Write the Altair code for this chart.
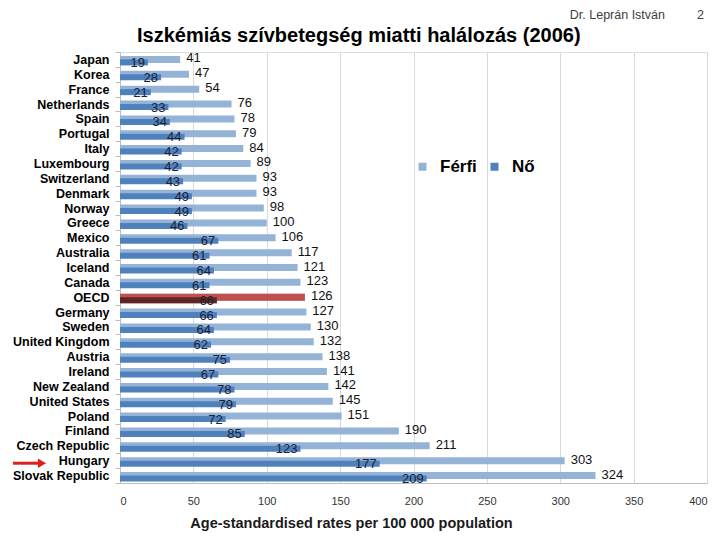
import altair as alt
import pandas as pd

countries = ["Japan", "Korea", "France", "Netherlands", "Spain", "Portugal", "Italy",
             "Luxembourg", "Switzerland", "Denmark", "Norway", "Greece", "Mexico",
             "Australia", "Iceland", "Canada", "OECD", "Germany", "Sweden",
             "United Kingdom", "Austria", "Ireland", "New Zealand", "United States",
             "Poland", "Finland", "Czech Republic", "Hungary", "Slovak Republic"]
ferfi = [41, 47, 54, 76, 78, 79, 84, 89, 93, 93, 98, 100, 106, 117, 121, 123, 126,
         127, 130, 132, 138, 141, 142, 145, 151, 190, 211, 303, 324]
no = [19, 28, 21, 33, 34, 44, 42, 42, 43, 49, 49, 46, 67, 61, 64, 61, 66, 66, 64,
      62, 75, 67, 78, 79, 72, 85, 123, 177, 209]
series = ["Férfi", "Nő"]
series_colors = ["#95b3d7", "#4f81bd"]
oecd_colors = ["#c0504d", "#632523"]
x_ticks = [0, 50, 100, 150, 200, 250, 300, 350, 400]

rows = []
for c, f, n in zip(countries, ferfi, no):
    rows.append({"country": c, "series": series[0], "value": f})
    rows.append({"country": c, "series": series[1], "value": n})
df = pd.DataFrame(rows)

FONT = "Liberation Sans"

base = alt.Chart(df)

y_enc = alt.Y("country:N", sort=countries,
              scale=alt.Scale(paddingInner=0, paddingOuter=0),
              axis=alt.Axis(title=None, labelFontSize=12.5, labelFontWeight="bold",
                            labelColor="#000000", labelFont=FONT, ticks=True,
                            tickBand="extent", tickSize=5, tickColor="#bfbfbf",
                            domainColor="#bfbfbf", labelPadding=6, grid=False))
x_enc = alt.X("value:Q", scale=alt.Scale(domain=[0, 400], nice=False),
              axis=alt.Axis(values=x_ticks, grid=True, gridColor="#d9d9d9",
                            tickSize=0, labelPadding=12, labelFontSize=11,
                            labelColor="#333333", labelFont=FONT,
                            domainColor="#bfbfbf",
                            title="Age-standardised rates per 100 000 population",
                            titleFontSize=14.5, titleFontWeight="bold", titleFont=FONT,
                            titleColor="#1a1a1a", titleX=231, titleY=44,
                            titleAlign="center", titleBaseline="alphabetic"))
color_enc = alt.Color("series:N",
                      scale=alt.Scale(domain=series, range=series_colors),
                      legend=alt.Legend(orient="none", legendX=294, legendY=106,
                                        direction="horizontal", title=None,
                                        symbolType="square", symbolSize=64,
                                        symbolStrokeWidth=0,
                                        labelFontSize=17, labelFontWeight="bold",
                                        labelFont=FONT, labelColor="#000000",
                                        labelOffset=9, columnPadding=9))

f_bars = base.transform_filter(alt.datum.series == series[0]).mark_bar(
    height=7, yOffset=0).encode(x=x_enc, y=y_enc, color=color_enc)
n_bars = base.transform_filter(alt.datum.series == series[1]).mark_bar(
    height=6, yOffset=3).encode(x=x_enc, y=y_enc, color=color_enc)

oecd_f = base.transform_filter(
    (alt.datum.series == series[0]) & (alt.datum.country == "OECD")).mark_bar(
    height=7, yOffset=0, color=oecd_colors[0]).encode(x=x_enc, y=y_enc)
oecd_n = base.transform_filter(
    (alt.datum.series == series[1]) & (alt.datum.country == "OECD")).mark_bar(
    height=6, yOffset=3, color=oecd_colors[1]).encode(x=x_enc, y=y_enc)

f_text = base.transform_filter(alt.datum.series == series[0]).mark_text(
    align="left", baseline="middle", dx=6, yOffset=-1, fontSize=13, font=FONT,
    color="#111111").encode(x=x_enc, y=y_enc, text="value:Q")
n_text = base.transform_filter(alt.datum.series == series[1]).mark_text(
    align="right", baseline="middle", dx=-3, yOffset=3.5, fontSize=13, font=FONT,
    color="#1b2233").encode(x=x_enc, y=y_enc, text="value:Q")

arrow_shaft = base.transform_filter(
    (alt.datum.series == series[0]) & (alt.datum.country == "Hungary")).mark_rule(
    color="#e02020", strokeWidth=3, yOffset=2.5).encode(
    x=alt.value(-107), x2=alt.value(-82), y=y_enc)
arrow_head = base.transform_filter(
    (alt.datum.series == series[0]) & (alt.datum.country == "Hungary")).mark_point(
    shape="triangle-right", filled=True, size=90, color="#e02020", opacity=1,
    yOffset=2.5).encode(x=alt.value(-78), y=y_enc)

one = alt.Data(values=[{"k": 1}])
title_txt = alt.Chart(one).mark_text(
    align="left", baseline="alphabetic", fontSize=20, fontWeight="bold",
    font=FONT, color="#000000").encode(
    x=alt.value(17), y=alt.value(-10),
    text=alt.value("Iszkémiás szívbetegség miatti halálozás (2006)"))
author_txt = alt.Chart(one).mark_text(
    align="right", baseline="alphabetic", fontSize=12.5,
    font=FONT, color="#404040").encode(
    x=alt.value(545), y=alt.value(-33), text=alt.value("Dr. Leprán István"))
page_txt = alt.Chart(one).mark_text(
    align="right", baseline="alphabetic", fontSize=12.5,
    font=FONT, color="#404040").encode(
    x=alt.value(584), y=alt.value(-33), text=alt.value("2"))

chart = alt.layer(
    f_bars, n_bars, oecd_f, oecd_n, f_text, n_text, arrow_shaft, arrow_head,
    title_txt, author_txt, page_txt
).properties(
    width=587, height=431,
    autosize=alt.AutoSizeParams(type="none"),
    padding={"left": 112, "top": 44, "right": 5, "bottom": 49},
).configure_view(stroke="#bfbfbf").configure(background="white")

chart.save("out.html", embed_options={"renderer": "svg", "actions": False})
